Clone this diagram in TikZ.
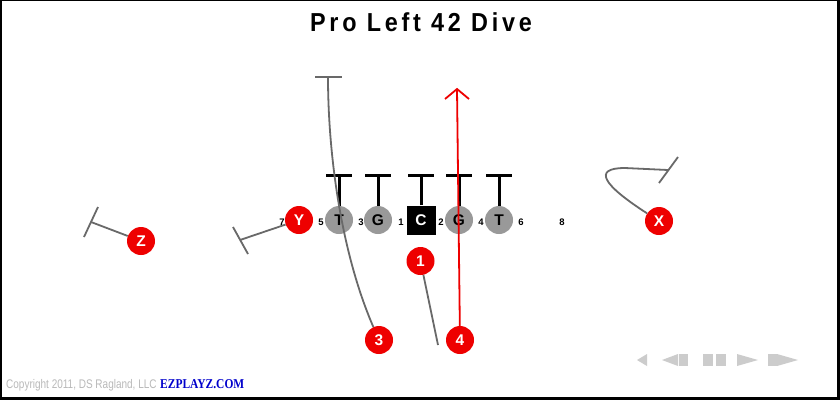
\documentclass[tikz,border=0pt]{standalone}
\usepackage{fontspec}
\setmainfont{Liberation Sans}
\newfontfamily\serifbold{Liberation Serif}
\definecolor{pred}{RGB}{238,0,0}
\definecolor{pgray}{RGB}{153,153,153}
\definecolor{routec}{RGB}{105,105,105}
\definecolor{ctl}{RGB}{204,204,204}
\definecolor{cpy}{RGB}{185,185,185}
\definecolor{ezblue}{RGB}{0,0,204}
\begin{document}
\begin{tikzpicture}[x=1pt,y=-1pt,
  player/.style={circle,minimum size=28,inner sep=0,font=\bfseries\fontsize{15.5}{15.5}\selectfont},
  offp/.style={player,fill=pred,text=white},
  linep/.style={player,fill=pgray,text=black},
  snapbox/.style={rectangle,minimum size=29,inner sep=0,fill=black,text=white,font=\bfseries\fontsize{15.5}{15.5}\selectfont},
  gapn/.style={font=\bfseries\fontsize{9.5}{9.5}\selectfont,inner sep=0},
  blockl/.style={line width=3,black},
  routel/.style={routec,line width=1.8},
  runl/.style={pred,line width=1.8},
  ctlicon/.style={fill=ctl}
]
\useasboundingbox (0,0) rectangle (840,400);
\fill[black] (0,0) rectangle (840,400);
\fill[white] (2,1) rectangle (837,397);

% title
\node (title) at (421,22) {\scalebox{0.9}[1]{\fontsize{26}{26}\selectfont\bfseries\addfontfeature{LetterSpace=16}Pro Left 42 Dive}};

% offensive line
\node[linep] (lt) at (339,220) {T};
\node[linep] (lg) at (378,220) {G};
\node[snapbox] (c) at (421,220) {C};
\node[linep] (rg) at (459,220) {G};
\node[linep] (rt) at (499,220) {T};

% gap numbers
\node[gapn] (g7) at (282,222) {7};
\node[gapn] (g5) at (321,222) {5};
\node[gapn] (g3) at (361,222) {3};
\node[gapn] (g1) at (401,222) {1};
\node[gapn] (g2) at (441,222) {2};
\node[gapn] (g4) at (481,222) {4};
\node[gapn] (g6) at (521,222) {6};
\node[gapn] (g8) at (562,222) {8};

% blocks
\foreach \n/\x in {lt/339,lg/378,c/421,rg/459,rt/499}{
  \coordinate (b\n) at (\x,175);
  \draw[blockl] (\n.north) -- (b\n);
  \draw[blockl] ([xshift=-13]b\n) -- ([xshift=13]b\n);
}

% routes
\coordinate (ez) at (91,222);
\coordinate (ey) at (240,240);
\coordinate (e3) at (328,77);
\coordinate (e1) at (438,345);
\coordinate (e4) at (457,89);
\coordinate (ex) at (668,170);

\node[offp] (pz) at (141,241) {Z};
\node[offp] (py) at (299,220) {Y};
\node[offp] (px) at (659,221) {X};
\node[offp] (p1) at (420.5,261) {1};
\node[offp] (p3) at (379,340) {3};
\node[offp] (p4) at (460,340) {4};

\draw[routel] (pz) -- (ez);
\draw[routel] (98,207) -- (84,237);

\draw[routel] (py) -- (ey);
\draw[routel] (233,227) -- (248,254);

\draw[routel] (p3) .. controls (340,250) and (328,150) .. (e3);
\draw[routel] (315,77) -- (342,77);

\draw[routel] (p1) -- (e1);

\draw[routel] (px) .. controls (603,185) and (592,168) .. (625,168) -- (ex);
\draw[routel] (678,157) -- (659,183);

\draw[runl] (p4) -- (e4);
\draw[runl] (445,99) -- (e4) -- (469,99);

% footer
\node[anchor=west,text=cpy,inner sep=0] (copy) at (6,385) {\scalebox{0.8}[1]{\fontsize{12.5}{12.5}\selectfont Copyright 2011, DS Ragland, LLC}};
\node[anchor=west,text=ezblue,inner sep=0] (ezp) at (160,384.5) {\scalebox{0.85}[1]{\serifbold\bfseries\fontsize{13.5}{13.5}\selectfont EZPLAYZ.COM}};

% playback controls
\fill[ctlicon] (647,354) -- (637,360) -- (647,366) -- cycle;
\fill[ctlicon] (678,354) -- (662,360) -- (678,366) -- cycle;
\fill[ctlicon] (679,354) rectangle (688,366);
\fill[ctlicon] (703,354) rectangle (713,366);
\fill[ctlicon] (716,354) rectangle (726,366);
\fill[ctlicon] (737,354) -- (758,360) -- (737,366) -- cycle;
\fill[ctlicon] (768,354) rectangle (777,366);
\fill[ctlicon] (777,354) -- (798,360) -- (777,366) -- cycle;
\end{tikzpicture}
\end{document}
